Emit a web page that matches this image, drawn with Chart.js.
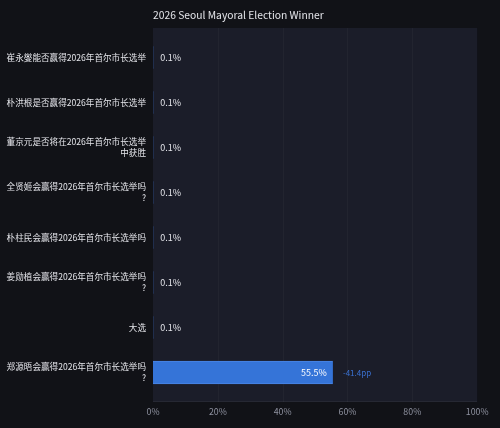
<!DOCTYPE html>
<html>
<head>
<meta charset="utf-8">
<script src="https://cdn.jsdelivr.net/npm/chart.js@4.4.1/dist/chart.umd.min.js"></script>
<style>
html,body{margin:0;padding:0;background:#111217;}
#wrap{width:500px;height:428px;position:relative;}
</style>
</head>
<body>
<div id="wrap"><canvas id="c" width="500" height="428"></canvas></div>
<script>
const categories = [
  ["崔永燮能否赢得2026年首尔市长选举"],
  ["朴洪根是否赢得2026年首尔市长选举"],
  ["董京元是否将在2026年首尔市长选举", "中获胜"],
  ["全贤姬会赢得2026年首尔市长选举吗", "?"],
  ["朴柱民会赢得2026年首尔市长选举吗"],
  ["姜勋植会赢得2026年首尔市长选举吗", "?"],
  ["大选"],
  ["郑源晤会赢得2026年首尔市长选举吗", "?"]
];
const values = [0.1, 0.1, 0.1, 0.1, 0.1, 0.1, 0.1, 55.5];
const changes = [null, null, null, null, null, null, null, -41.4];
const xTicks = [0, 20, 40, 60, 80, 100];
const titleText = "2026 Seoul Mayoral Election Winner";

const FONT = '"Noto Sans CJK SC", "Noto Sans", sans-serif';

const bgPlugin = {
  id: 'bgPlugin',
  beforeDraw(chart) {
    const {ctx, chartArea: a} = chart;
    ctx.save();
    ctx.fillStyle = '#1b1d29';
    ctx.fillRect(a.left, a.top - 7, a.right - a.left, a.bottom - a.top + 14);
    const xs = chart.scales.x;
    ctx.strokeStyle = 'rgba(255,255,255,0.03)';
    ctx.lineWidth = 1;
    xTicks.forEach(t => {
      if (t === 0 || t === 100) return;
      const px = Math.round(xs.getPixelForValue(t)) + 0.5;
      ctx.beginPath();
      ctx.moveTo(px, a.top - 7);
      ctx.lineTo(px, a.bottom + 7);
      ctx.stroke();
    });
    ctx.fillStyle = 'rgba(255,255,255,0.05)';
    ctx.fillRect(a.left, a.bottom + 6, a.right - a.left, 1);
    ctx.restore();
  }
};

const labelPlugin = {
  id: 'labelPlugin',
  afterDatasetsDraw(chart) {
    const {ctx} = chart;
    const meta = chart.getDatasetMeta(0);
    ctx.save();
    ctx.textBaseline = 'middle';
    meta.data.forEach((bar, i) => {
      const v = values[i];
      const txt = v.toFixed(1) + '%';
      const w = bar.x - bar.base;
      ctx.font = '9px ' + FONT;
      if (w > 40) {
        ctx.fillStyle = '#ffffff';
        ctx.textAlign = 'right';
        ctx.fillText(txt, bar.x - 6, bar.y);
        if (changes[i] !== null) {
          ctx.fillStyle = '#3b73d6';
          ctx.textAlign = 'left';
          ctx.font = '8px ' + FONT;
          ctx.fillText(changes[i].toFixed(1) + 'pp', bar.x + 10, bar.y);
        }
      } else {
        ctx.fillStyle = '#e4e5ea';
        ctx.textAlign = 'left';
        ctx.fillText(txt, bar.x + 7, bar.y);
      }
    });
    ctx.restore();
  }
};

new Chart(document.getElementById('c'), {
  type: 'bar',
  data: {
    labels: categories,
    datasets: [{
      data: values,
      backgroundColor: '#3574d8',
      borderColor: '#4a86e6',
      borderWidth: {top: 1, bottom: 1, left: 0, right: 0},
      borderSkipped: false,
      barThickness: 23
    }]
  },
  options: {
    indexAxis: 'y',
    responsive: false,
    animation: false,
    devicePixelRatio: 1,
    layout: {padding: {left: 0, right: 22, top: 0, bottom: 0}},
    plugins: {
      legend: {display: false},
      tooltip: {enabled: false},
      title: {
        display: true,
        text: titleText,
        align: 'start',
        fullSize: false,
        color: '#e4e5ea',
        font: {family: FONT, size: 10.3, weight: 'normal', lineHeight: 1.2},
        padding: {top: 9, bottom: 13.6}
      }
    },
    scales: {
      x: {
        min: 0, max: 100,
        border: {display: false},
        grid: {display: false, drawTicks: false},
        afterBuildTicks(scale) { scale.ticks = xTicks.map(v => ({value: v})); },
        afterFit(scale) { scale.height = 33; },
        ticks: {
          color: '#8f92a0',
          padding: 11.5,
          font: {family: FONT, size: 8.8},
          callback: v => v + '%'
        }
      },
      y: {
        border: {display: false},
        grid: {display: false, drawTicks: false},
        afterFit(scale) { scale.width = 153; },
        ticks: {
          color: '#e4e5ea',
          padding: 7,
          font: {family: FONT, size: 8.6, lineHeight: 1.25}
        }
      }
    }
  },
  plugins: [bgPlugin, labelPlugin]
});
</script>
</body>
</html>
